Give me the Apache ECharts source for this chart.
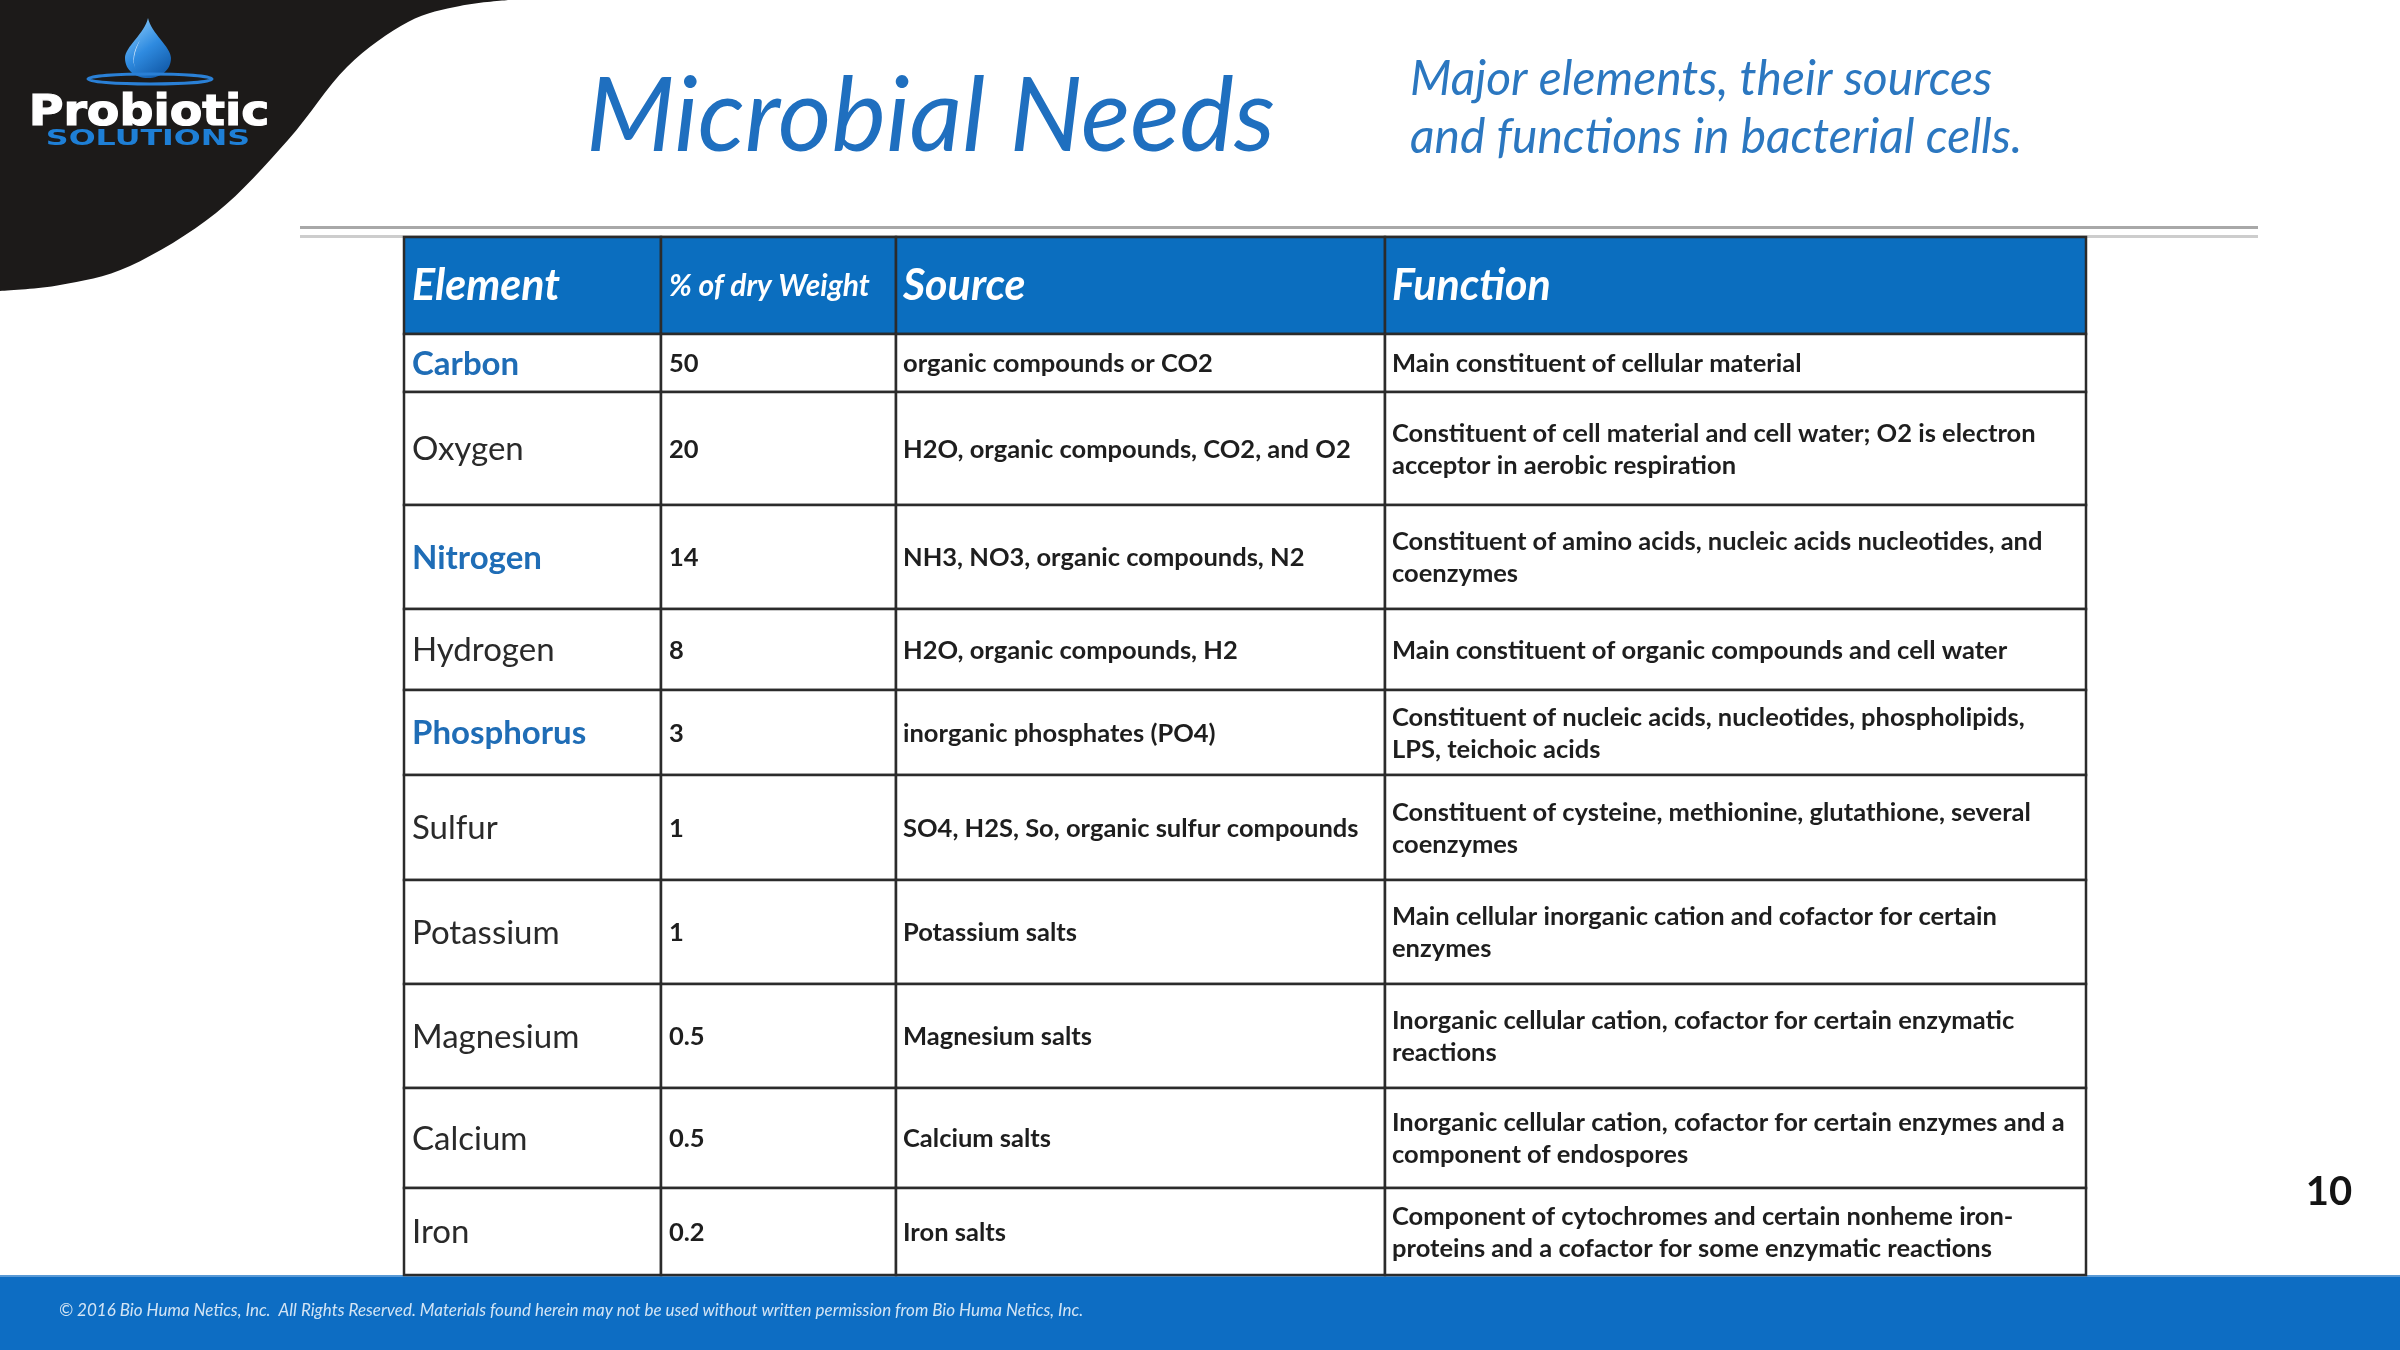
<!DOCTYPE html>
<html>
<head>
<meta charset="utf-8">
<title>Microbial Needs</title>
<script src="https://cdn.jsdelivr.net/npm/echarts@6/dist/echarts.min.js"></script>
<style>
    html, body { margin: 0; padding: 0; background: #ffffff; }
    #chart { width: 2400px; height: 1350px; }
</style>
</head>
<body>
<div id="chart"></div>
<script>
// table content
const headers = ['Element', '% of dry Weight', 'Source', 'Function'];
const elements = ['Carbon', 'Oxygen', 'Nitrogen', 'Hydrogen', 'Phosphorus', 'Sulfur',
    'Potassium', 'Magnesium', 'Calcium', 'Iron'];
const dryWeight = [50, 20, 14, 8, 3, 1, 1, 0.5, 0.5, 0.2];
const sources = [
    'organic compounds or CO2',
    'H2O, organic compounds, CO2, and O2',
    'NH3, NO3, organic compounds, N2',
    'H2O, organic compounds, H2',
    'inorganic phosphates (PO4)',
    'SO4, H2S, So, organic sulfur compounds',
    'Potassium salts',
    'Magnesium salts',
    'Calcium salts',
    'Iron salts'
];
const functions = [
    'Main constituent of cellular material',
    'Constituent of cell material and cell water; O2 is electron\nacceptor in aerobic respiration',
    'Constituent of amino acids, nucleic acids nucleotides, and\ncoenzymes',
    'Main constituent of organic compounds and cell water',
    'Constituent of nucleic acids, nucleotides, phospholipids,\nLPS, teichoic acids',
    'Constituent of cysteine, methionine, glutathione, several\ncoenzymes',
    'Main cellular inorganic cation and cofactor for certain\nenzymes',
    'Inorganic cellular cation, cofactor for certain enzymatic\nreactions',
    'Inorganic cellular cation, cofactor for certain enzymes and a\ncomponent of endospores',
    'Component of cytochromes and certain nonheme iron-\nproteins and a cofactor for some enzymatic reactions'
];
const highlighted = ['Carbon', 'Nitrogen', 'Phosphorus'];

// layout of the table (column widths, row heights in px)
const colWidths = [257, 235, 489, 701];
const rowHeights = [97, 58, 113, 104, 81, 85, 105, 104, 104, 100, 87];

const FONT = 'Lato, "Open Sans", "Noto Sans", sans-serif';
const LOGO_FONT = '"DejaVu Sans", "Liberation Sans", sans-serif';
const BLUE = '#0b6ebf';

const colStarts = [0];
colWidths.forEach(w => colStarts.push(colStarts[colStarts.length - 1] + w));
const rowStarts = [0];
rowHeights.forEach(h => rowStarts.push(rowStarts[rowStarts.length - 1] + h));

// one data item per cell: [column, row]
const cells = [];
for (let r = 0; r <= elements.length; r++) {
    for (let c = 0; c < headers.length; c++) {
        cells.push([c, r]);
    }
}

function cellText(c, r) {
    if (r === 0) return headers[c];
    let i = r - 1;
    return [elements[i], String(dryWeight[i]), sources[i], functions[i]][c];
}

function cellStyle(c, r) {
    if (r === 0) {
        return {
            fill: '#ffffff', fontWeight: 'bold', fontStyle: 'italic',
            fontSize: c === 1 ? 30 : 43
        };
    }
    if (c === 0) {
        let hl = highlighted.includes(elements[r - 1]);
        return { fill: hl ? '#1f6db6' : '#2a2a2a', fontWeight: hl ? 'bold' : 'normal', fontSize: 33 };
    }
    return { fill: '#1e1e1e', fontWeight: 'bold', fontSize: 25.5, lineHeight: 32 };
}

// smooth path through points for the black swoosh of the logo
function smoothPath(pts) {
    let d = 'M' + pts[0][0] + ' ' + pts[0][1];
    for (let i = 0; i < pts.length - 1; i++) {
        let p0 = pts[Math.max(i - 1, 0)], p1 = pts[i], p2 = pts[i + 1], p3 = pts[Math.min(i + 2, pts.length - 1)];
        let c1 = [p1[0] + (p2[0] - p0[0]) / 6, p1[1] + (p2[1] - p0[1]) / 6];
        let c2 = [p2[0] - (p3[0] - p1[0]) / 6, p2[1] - (p3[1] - p1[1]) / 6];
        d += ' C' + c1.join(' ') + ' ' + c2.join(' ') + ' ' + p2.join(' ');
    }
    return d;
}
const swoosh = smoothPath([[508, 0], [460, 6], [408, 22], [347, 67], [288, 140], [216, 213], [130, 266], [60, 285], [0, 291]]) + ' L0 0 Z';

const chart = echarts.init(document.getElementById('chart'), null, { renderer: 'canvas' });

const option = {
    backgroundColor: '#ffffff',
    animation: false,
    title: [
        {
            text: 'Microbial Needs',
            left: 586,
            top: 66,
            padding: 0,
            textStyle: { fontFamily: FONT, fontSize: 103, fontStyle: 'italic', fontWeight: 'normal', color: '#1f6fbf' }
        },
        {
            text: 'Major elements, their sources\nand functions in bacterial cells.',
            left: 1410,
            top: 51,
            padding: 0,
            textStyle: { fontFamily: FONT, fontSize: 48, fontStyle: 'italic', fontWeight: 'normal', color: '#2b77c0', lineHeight: 58 }
        }
    ],
    grid: { left: 404, top: 237, width: 1682, height: 1038 },
    xAxis: { type: 'value', min: 0, max: colStarts[colStarts.length - 1], show: false },
    yAxis: { type: 'value', min: 0, max: rowStarts[rowStarts.length - 1], inverse: true, show: false },
    graphic: {
        elements: [
            {
                type: 'text', x: 149, y: 114, scaleX: 1.13,
                style: {
                    text: 'Probiotic', x: 0, y: 0, fill: '#ffffff', stroke: '#ffffff', lineWidth: 1.2,
                    font: 'bold 42px ' + LOGO_FONT, align: 'center', verticalAlign: 'middle'
                },
                z: 10
            },
            {
                type: 'text', x: 148, y: 140, scaleX: 1.51,
                style: { text: 'SOLUTIONS', x: 0, y: 0, fill: '#1e7fd6', font: 'bold 21px ' + LOGO_FONT, align: 'center', verticalAlign: 'middle' },
                z: 10
            },
            // separator lines
            { type: 'rect', shape: { x: 300, y: 226, width: 1958, height: 3 }, style: { fill: '#a8a8a8' } },
            { type: 'rect', shape: { x: 300, y: 235, width: 1958, height: 3 }, style: { fill: '#cdcdcd' } },
            // page number
            {
                type: 'text', x: 2329, y: 1192,
                style: { text: '10', x: 0, y: 0, fill: '#141414', font: 'bold 40px ' + FONT, align: 'center', verticalAlign: 'middle' }
            },
            // footer band
            { type: 'rect', shape: { x: 0, y: 1275, width: 2400, height: 75 }, style: { fill: '#0d6dc3' } },
            { type: 'rect', shape: { x: 0, y: 1275, width: 2400, height: 2 }, style: { fill: '#5a9ad6' } },
            {
                type: 'text', x: 59, y: 1311,
                style: {
                    text: '\u00a9 2016 Bio Huma Netics, Inc.  All Rights Reserved. Materials found herein may not be used without written permission from Bio Huma Netics, Inc.',
                    x: 0, y: 0, fill: 'rgba(255,255,255,0.82)', font: 'italic 17px ' + FONT, align: 'left', verticalAlign: 'middle'
                }
            }
        ]
    },
    series: [
        {
            // logo artwork (not data)
            type: 'custom',
            coordinateSystem: 'none',
            data: [[0]],
            silent: true,
            z: 1,
            renderItem: () => ({
                type: 'group',
                children: [
                    { type: 'path', shape: { pathData: swoosh }, style: { fill: '#1c1a19' } },
                    {
                        type: 'path',
                        shape: { pathData: 'M148 18 C151 33 171 47 171 58 C171 70 161 78 148 78 C135 78 125 70 125 58 C125 47 145 33 148 18 Z' },
                        style: {
                            fill: new echarts.graphic.LinearGradient(0, 0, 1, 1, [
                                { offset: 0, color: '#9ad6ff' }, { offset: 0.5, color: '#2f8be0' }, { offset: 1, color: '#0b4f9c' }
                            ])
                        }
                    },
                    {
                        type: 'path',
                        shape: { pathData: 'M140 40 C134 50 131 60 136 70 C132 62 134 52 140 40 Z' },
                        style: { fill: '#ffffff', opacity: 0.85 }
                    },
                    {
                        type: 'ellipse',
                        shape: { cx: 150, cy: 79, rx: 62, ry: 5 },
                        style: { fill: 'none', stroke: '#2a80d6', lineWidth: 3 }
                    }
                ]
            })
        },
        {
            type: 'custom',
            data: cells,
            silent: true,
            renderItem: (params, api) => {
                let c = api.value(0);
                let r = api.value(1);
                let p0 = api.coord([colStarts[c], rowStarts[r]]);
                let p1 = api.coord([colStarts[c + 1], rowStarts[r + 1]]);
                let s = cellStyle(c, r);
                let pad = c < 2 ? 8 : 7;
                return {
                    type: 'group',
                    children: [
                        {
                            type: 'rect',
                            shape: { x: p0[0], y: p0[1], width: p1[0] - p0[0], height: p1[1] - p0[1] },
                            style: { fill: r === 0 ? BLUE : '#ffffff', stroke: '#2b2b2b', lineWidth: 2.5 }
                        },
                        {
                            type: 'text',
                            x: p0[0] + pad,
                            y: (p0[1] + p1[1]) / 2 + 1,
                            style: {
                                text: cellText(c, r),
                                fill: s.fill,
                                fontFamily: FONT,
                                fontSize: s.fontSize,
                                fontWeight: s.fontWeight,
                                fontStyle: s.fontStyle || 'normal',
                                lineHeight: s.lineHeight || s.fontSize * 1.2,
                                align: 'left',
                                verticalAlign: 'middle'
                            }
                        }
                    ]
                };
            }
        }
    ]
};

chart.setOption(option);
</script>
</body>
</html>
